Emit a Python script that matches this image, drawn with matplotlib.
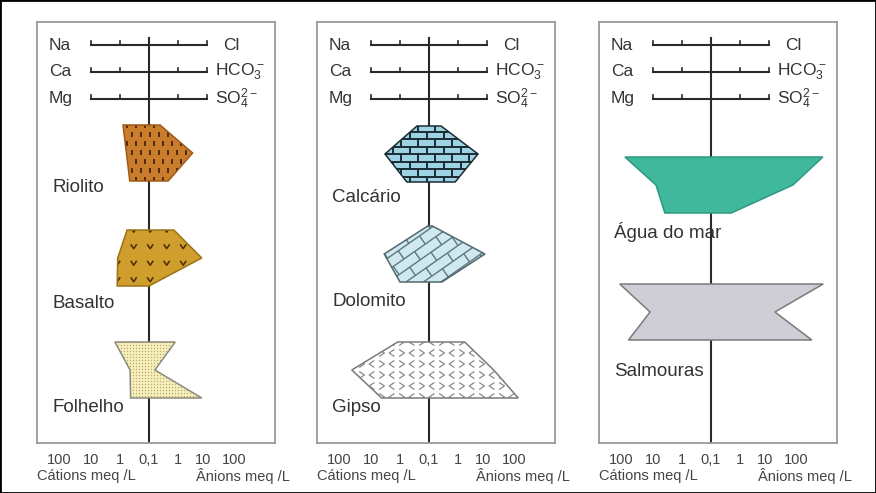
import numpy as np
import matplotlib.pyplot as plt
from matplotlib.patches import Polygon, Rectangle
from matplotlib.collections import LineCollection

plt.rcParams['font.family'] = ['Liberation Sans', 'DejaVu Sans']
plt.rcParams['mathtext.fontset'] = 'custom'
plt.rcParams['mathtext.rm'] = 'Liberation Sans'

# concentrações (meq/L) de cada tipo de água
rocks = ['Riolito', 'Basalto', 'Folhelho', 'Calcário', 'Dolomito', 'Gipso',
         'Água do mar', 'Salmouras']
na = [0.79, 0.57, 1.5, 0.26, 0.11, 1.2, 93, 140]
ca = [0.60, 1.2, 0.45, 3.3, 3.5, 46, 7.9, 12.6]
mg = [0.46, 1.25, 0.43, 0.58, 1.0, 4.3, 3.9, 70]
cl = [0.24, 0.72, 0.80, 0.26, 0.13, 1.7, 720, 740]
hco3 = [3.2, 6.6, 0.16, 4.9, 8.5, 17, 67, 16]
so4 = [0.46, 0.10, 6.6, 0.80, 0.28, 120, 0.50, 300]

cations = ['Na', 'Ca', 'Mg']
anions = ['Cl', r'$\mathregular{HCO_3^-}$', r'$\mathregular{SO_4^{2-}}$']
tick_pos = [-3.1, -2, -1, 0, 1, 1.85, 2.95]
tick_txt = ['100', '10', '1', '0,1', '1', '10', '100']

# layout (pixels)
W, H = 876, 493
PX = 29.0              # pixels per decade
BOX_TOP, BOX_BOT = 22, 443
BOX_W = 238
LEFT, RIGHT = 112, 126
ROW = 28
panel_left = [37, 317, 599]
panel_rocks = [[0, 1, 2], [3, 4, 5], [6, 7]]
tops = [103, 208, 320, 104, 204, 320, 135, 262]
label_y = [165, 281, 386, 175, 280, 386, 210, 349]
header_y = [23, 50, 77]

fills = ['#c97c2c', '#cf9e2c', '#f6efbd', '#9ed3e3', '#d0e9f1', '#ffffff',
         '#3fb89c', '#cfcdd5']
edges = ['#a05a18', '#9c7416', '#8c8a7a', '#1b2b33', '#52686e', '#7a7a7a',
         '#2e9a82', '#7a7a7a']


def dec(c):
    return np.log10(np.asarray(c, dtype=float) / 0.1)


def grid(poly_px, sx, sy, stagger=0.0):
    xs = [p[0] for p in poly_px]
    ys = [p[1] for p in poly_px]
    pts = []
    for k, y in enumerate(np.arange(min(ys) - sy, max(ys) + sy, sy)):
        off = stagger if k % 2 else 0.0
        for x in np.arange(min(xs) - sx, max(xs) + sx, sx):
            pts.append((x + off, y))
    return pts


def bricks(cx, cy, h, w, ang, reach=140):
    t = np.deg2rad(ang)
    segs = []
    n = int(reach / h)
    for k in range(-n, n + 1):
        b0, b1 = k * h, (k + 1) * h
        segs.append([(-reach, b0), (reach, b0)])
        off = (k % 2) * w / 2
        for a in np.arange(-reach, reach, w):
            segs.append([(a + off, b0), (a + off, b1)])
    out = []
    for s in segs:
        seg = []
        for a, b in s:
            sx = a * np.cos(t) - b * np.sin(t)
            sy = a * np.sin(t) + b * np.cos(t)
            seg.append(((cx + sx) / PX, cy - sy))
        out.append(seg)
    return out


def texture(ax, i, verts, clip):
    # verts in (x decades, y px); pattern built in pixel space
    vpx = [(x * PX, y) for x, y in verts]
    cx = np.mean([p[0] for p in vpx])
    cy = np.mean([p[1] for p in vpx])
    art = []
    if i == 0:
        segs = [[(x / PX, y - 2.5), (x / PX, y + 2.5)]
                for x, y in grid(vpx, 9, 9, 4.5)]
        art.append(LineCollection(segs, colors='#3d1c06', lw=1.2))
    elif i == 1:
        segs = [[((x - 3) / PX, y - 2.2), (x / PX, y + 2.2), ((x + 3) / PX, y - 2.2)]
                for x, y in grid(vpx, 16.5, 16.5)]
        art.append(LineCollection(segs, colors='#4a2a08', lw=1.1))
    elif i == 2:
        pts = np.array(grid(vpx, 3, 3))
        sc = ax.scatter(pts[:, 0] / PX, pts[:, 1], s=0.9, c='#bba865',
                        lw=0, zorder=4)
        sc.set_clip_path(clip)
    elif i == 3:
        art.append(LineCollection(bricks(cx, cy, 7.5, 17, 0), colors='#1b2b33', lw=1.4))
    elif i == 4:
        art.append(LineCollection(bricks(cx, cy, 10, 26, 35), colors='#5e7880', lw=1.0))
    elif i == 5:
        segs = []
        for x, y in grid(vpx, 10, 11, 0):
            d = 2.6 if int(round(x / 10)) % 2 else -2.6
            segs.append([((x - d) / PX, y - 3.5), ((x + d) / PX, y), ((x - d) / PX, y + 3.5)])
        art.append(LineCollection(segs, colors='#8a8a8a', lw=0.9))
    for a in art:
        a.set_zorder(4)
        ax.add_collection(a)
        a.set_clip_path(clip)


fig = plt.figure(figsize=(W / 100, H / 100), dpi=100)
fig.patch.set_facecolor('white')

for p, left in enumerate(panel_left):
    ax = fig.add_axes([left / W, (H - BOX_BOT) / H, BOX_W / W, (BOX_BOT - BOX_TOP) / H])
    ax.set_xlim(-LEFT / PX, RIGHT / PX)
    ax.set_ylim(BOX_BOT - BOX_TOP, 0)
    ax.set_yticks([])
    ax.set_xticks(tick_pos, tick_txt)
    ax.tick_params(axis='x', length=0, pad=7, labelsize=10.5, labelcolor='#444')
    for s in ax.spines.values():
        s.set_color('#9a9a9a')
        s.set_linewidth(1.3)

    # eixo central
    ax.plot([0, 0], [16, BOX_BOT - BOX_TOP], color='#2a2a2a', lw=1.5, zorder=1)

    # escala de cátions / ânions
    for k, y in enumerate(header_y):
        ax.plot([-2, 2], [y, y], color='#2a2a2a', lw=1.5, zorder=2)
        for t in [-2, -1, 1, 2]:
            ax.plot([t, t], [y, y - 4], color='#2a2a2a', lw=1.2, zorder=2)
        ax.text(-100 / PX, y, cations[k], fontsize=12.5, color='#333',
                ha='left', va='center')
        ax.text((74 if k == 0 else 66) / PX, y, anions[k], fontsize=12.5,
                color='#333', ha='left', va='center')

    for i in panel_rocks[p]:
        top = tops[i]
        verts = [(-dec(na[i]), top), (-dec(ca[i]), top + ROW), (-dec(mg[i]), top + 2 * ROW),
                 (dec(so4[i]), top + 2 * ROW), (dec(hco3[i]), top + ROW), (dec(cl[i]), top)]
        body = Polygon(verts, closed=True, fc=fills[i], ec='none', zorder=3)
        ax.add_patch(body)
        texture(ax, i, verts, body)
        ax.add_patch(Polygon(verts, closed=True, fill=False, ec=edges[i],
                             lw=1.1, zorder=5))
        ax.text(-97 / PX, label_y[i], rocks[i], fontsize=13.5, color='#333',
                ha='left', va='center', zorder=6)

    fig.text(left / W, 1 - 476 / H, 'Cátions meq /L', fontsize=10.5,
             color='#444', ha='left', va='center')
    fig.text((left + LEFT + 47) / W, 1 - 476 / H, 'Ânions meq /L', fontsize=10.5,
             color='#444', ha='left', va='center')

fig.add_artist(Rectangle((0, 0), 1, 1, transform=fig.transFigure, fill=False,
                         ec='black', lw=2))

fig.savefig('out.png', dpi=100)
